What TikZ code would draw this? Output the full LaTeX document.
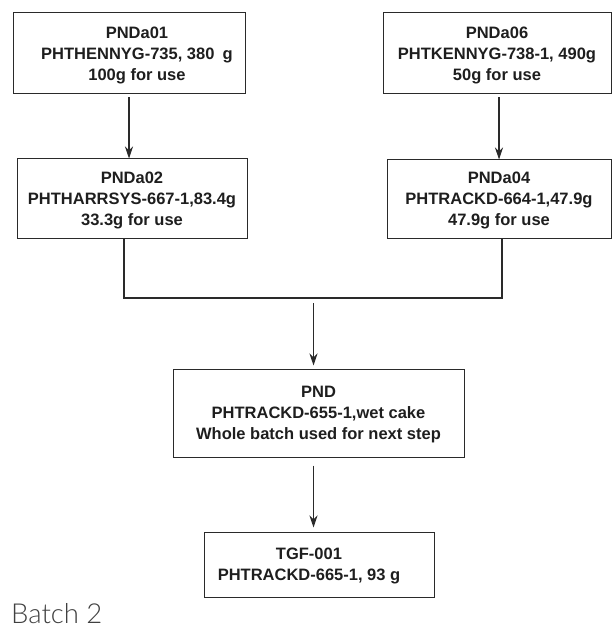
\documentclass[tikz,border=0pt]{standalone}
\usepackage{fontspec}
\setmainfont{Liberation Sans}
\newfontfamily\batchfont{Lato Light}
\usetikzlibrary{positioning,arrows.meta}
\definecolor{LotLine}{HTML}{2A2A2A}
\definecolor{LotText}{HTML}{1E1E1E}

\begin{document}
\begin{tikzpicture}[x=1pt,y=-1pt,>={Stealth[length=12pt,width=8pt]}]
  \tikzstyle{lotbox}=[draw=LotLine,line width=1pt,inner sep=0pt,
    align=center,text=LotText,text depth=0pt,
    font=\fontsize{16.5}{21}\selectfont\bfseries]
  \tikzstyle{link}=[line width=1.1pt,color=LotLine]
  \useasboundingbox (0,0) rectangle (611,628);
  % raw lots
  \node[lotbox,minimum width=232pt,minimum height=81pt] (a01) at (129,53.5)
    {\hspace*{16pt}PNDa01\\ \hspace*{16pt}PHTHENNYG-735, 380\enspace g\\ \hspace*{16pt}100g for use};
  \node[lotbox,minimum width=228pt,minimum height=81pt,right=137pt of a01] (a06)
    {PNDa06\\PHTKENNYG-738-1, 490g\\50g for use};
  \node[lotbox,minimum width=230pt,minimum height=79pt,below=64pt of a01,xshift=3pt] (a02)
    {PNDa02\\PHTHARRSYS-667-1,83.4g\\33.3g for use};
  \node[lotbox,minimum width=224pt,minimum height=78pt,below=65pt of a06,xshift=2pt] (a04)
    {PNDa04\\PHTRACKD-664-1,47.9g\\47.9g for use};
  % combined step
  \node[lotbox,minimum width=291pt,minimum height=88pt] (pnd) at (318.5,413)
    {PND\\PHTRACKD-655-1,wet cake\\Whole batch used for next step};
  \node[lotbox,minimum width=230pt,minimum height=65pt,below=74pt of pnd,xshift=0.5pt] (tgf)
    {TGF-001\hspace*{20pt}\\PHTRACKD-665-1, 93 g\hspace*{20pt}};
  \coordinate (j) at (313.5,298);
  \draw[->,link,shorten <=3pt] (a01.south) -- (a01.south |- a02.north);
  \draw[->,link,shorten <=3pt] (a04.north |- a06.south) -- (a04.north);
  \draw[link] ([xshift=-8pt]a02.south) |- (j) -| ([xshift=3pt]a04.south);
  \draw[->,link,shorten <=5pt,shorten >=3pt] (j) -- (j |- pnd.north);
  \draw[->,link,shorten <=8pt,shorten >=4pt] (pnd.south -| j) -- (tgf.north -| j);
  \node[anchor=base west,inner sep=0pt,text=black!75,
    font=\batchfont\fontsize{27.5}{30}\selectfont] (batch) at (11,623.5) {Batch 2};
\end{tikzpicture}
\end{document}
